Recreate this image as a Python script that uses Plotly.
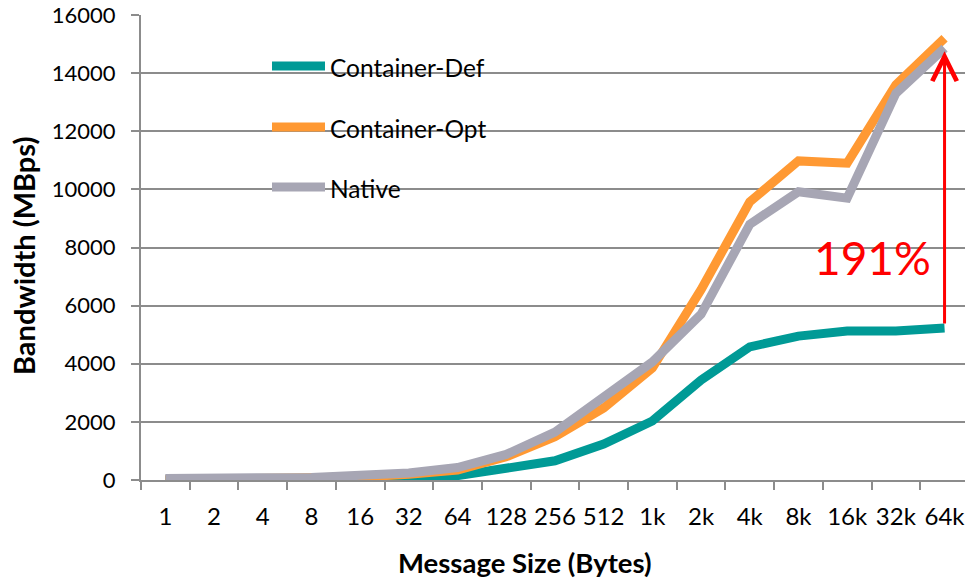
import plotly.graph_objects as go

categories = ["1", "2", "4", "8", "16", "32", "64", "128", "256", "512",
              "1k", "2k", "4k", "8k", "16k", "32k", "64k"]
container_def = [1, 2, 4, 8, 15, 40, 150, 400, 660, 1240, 2030, 3440, 4580, 4950, 5130, 5130, 5230]
container_opt = [10, 20, 30, 50, 100, 200, 340, 800, 1490, 2480, 3850, 6550, 9570, 10980, 10900, 13600, 15200]
native = [50, 55, 65, 90, 160, 240, 430, 880, 1650, 2860, 4060, 5700, 8800, 9920, 9700, 13300, 14860]
y_ticks = [0, 2000, 4000, 6000, 8000, 10000, 12000, 14000, 16000]
gain_label = "191%"

series = [
    ("Container-Def", container_def, "#009A96"),
    ("Container-Opt", container_opt, "#FF9933"),
    ("Native", native, "#A7A6B4"),
]

FONT = "Lato"
# plot area spans x 141..965, y 15..480 on screen (page body margin removed)
L, T, PW, PH = 141, 15, 824, 465
W, H = 965, 578

fig = go.Figure()
for name, vals, col in series:
    fig.add_trace(go.Scatter(
        x=categories, y=vals, name=name, mode="lines",
        line=dict(color=col, width=9), showlegend=False,
    ))

grid = "#8C8C8C"
fig.update_layout(
    width=W, height=H,
    margin=dict(l=L, r=W - L - PW, t=T, b=H - T - PH, autoexpand=False),
    plot_bgcolor="white", paper_bgcolor="white",
    font=dict(family=FONT, size=22, color="#000000"),
    xaxis=dict(
        type="category", range=[-0.5, 16.42], automargin=False,
        showgrid=False, showline=True, linecolor=grid, linewidth=2,
        ticks="outside", tickson="boundaries", ticklen=8, tickwidth=2, tickcolor=grid,
        tickfont=dict(family=FONT, size=24), ticklabelstandoff=14, tickangle=0,
        ticklabeloverflow="allow", zeroline=False,
    ),
    yaxis=dict(
        range=[0, 16000], tickvals=y_ticks, tickformat="d", automargin=False,
        showgrid=True, gridcolor=grid, gridwidth=2,
        showline=True, linecolor=grid, linewidth=2,
        ticks="outside", ticklen=8, tickwidth=2, tickcolor=grid,
        tickfont=dict(family=FONT, size=22), ticklabelstandoff=11,
        ticklabeloverflow="allow", zeroline=False,
    ),
)

def px_x(px):
    return (px - 141) / PW

def px_y(py):
    return (480 - py) / PH

# axis titles
fig.add_annotation(text="<b>Message Size (Bytes)</b>", xref="paper", yref="paper",
                   x=px_x(525), y=px_y(562), showarrow=False,
                   xanchor="center", yanchor="middle", font=dict(family=FONT, size=27.5))
fig.add_annotation(text="<b>Bandwidth (MBps)</b>", xref="paper", yref="paper",
                   x=px_x(23), y=px_y(256), showarrow=False, textangle=-90,
                   xanchor="center", yanchor="middle", font=dict(family=FONT, size=29))

# manual legend
legend_y = [66, 127, 187]
for (name, vals, col), py in zip(series, legend_y):
    fig.add_shape(type="line", xref="paper", yref="paper",
                  x0=px_x(272), x1=px_x(325), y0=px_y(py), y1=px_y(py),
                  line=dict(color=col, width=9))
    fig.add_annotation(text=name, xref="paper", yref="paper",
                       x=px_x(328), y=px_y(py + 1), showarrow=False,
                       xanchor="left", yanchor="middle", font=dict(family=FONT, size=24.5))

# gain arrow and label
fig.add_annotation(x="64k", y=14750, ax="64k", ay=container_def[-1] + 100,
                   xref="x", yref="y", axref="x", ayref="y",
                   text="", showarrow=True, arrowhead=5, arrowsize=1.6,
                   arrowwidth=3, arrowcolor="#FF0000", standoff=0, startstandoff=0)
fig.add_annotation(text=gain_label, xref="paper", yref="paper",
                   x=px_x(872), y=px_y(257), showarrow=False,
                   xanchor="center", yanchor="middle",
                   font=dict(family=FONT, size=46, color="#FF0000"))

fig.write_html("out.html", config={"displayModeBar": False},
               post_script="document.body.style.margin='0px';document.body.style.overflow='hidden';")
